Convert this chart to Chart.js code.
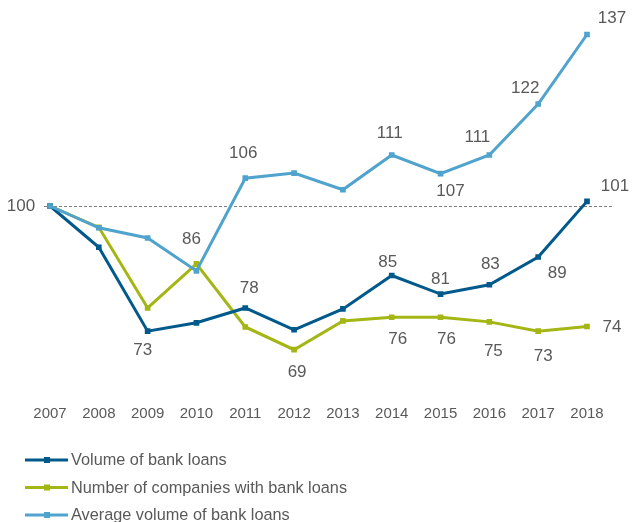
<!DOCTYPE html>
<html>
<head>
<meta charset="utf-8">
<script src="https://cdn.jsdelivr.net/npm/chart.js@4"></script>
<style>
  html, body { margin: 0; padding: 0; background: #fff; }
  #wrap { width: 640px; height: 522px; }
</style>
</head>
<body>
<div id="wrap"><canvas id="myChart"></canvas></div>
<script>
const years = ['2007', '2008', '2009', '2010', '2011', '2012', '2013', '2014', '2015', '2016', '2017', '2018'];

// index 2007 = 100
const volumeOfLoans = [100, 91.1, 73, 74.8, 78, 73.3, 77.8, 85, 81, 83, 89, 101];
const companiesWithLoans = [100, 95.4, 78, 87.5, 73.9, 69, 75.2, 76, 76, 75, 73, 74];
const averageLoan = [100, 95.3, 93.1, 86, 106, 107.1, 103.5, 111, 107, 111, 122, 137];

const baseline = 100;

// which points get a value label, and where it sits relative to the point [dx, dy]
const labelSpots = [
    { 0: [-29, 0], 2: [-5, 19], 4: [4, -20], 7: [-4, -13], 8: [0, -15], 9: [1, -20], 10: [19, 16], 11: [28, -15] },
    { 5: [3, 23], 7: [6, 22], 8: [6, 22], 9: [4, 29], 10: [5, 25], 11: [25, 1] },
    { 3: [-5, -32], 4: [-2, -25], 7: [-2, -22], 8: [10, 18], 9: [-12, -18], 10: [-13, -16], 11: [25, -16] }
];

const textColor = '#595959';
const fontFamily = '"Liberation Sans", Arial, sans-serif';

const ctx = document.getElementById('myChart').getContext('2d');

function lineSet(label, values, color, order) {
    return {
        label: label,
        data: values,
        borderColor: color,
        backgroundColor: color,
        borderWidth: 3,
        pointStyle: 'rect',
        pointRadius: 4,
        pointHoverRadius: 4,
        pointBorderWidth: 0,
        tension: 0,
        order: order
    };
}

// dotted reference line at 100
const baselinePlugin = {
    id: 'baseline',
    beforeDatasetsDraw(chart) {
        const x = chart.scales.x, y = chart.scales.y;
        const yy = Math.round(y.getPixelForValue(baseline)) + 0.5;
        const c = chart.ctx;
        c.save();
        c.strokeStyle = '#7f7f7f';
        c.lineWidth = 1;
        c.setLineDash([3, 2]);
        c.beginPath();
        c.moveTo(x.getPixelForValue(0) - 6, yy);
        c.lineTo(x.getPixelForValue(years.length - 1) + 25, yy);
        c.stroke();
        c.restore();
    }
};

const valueLabels = {
    id: 'valueLabels',
    afterDatasetsDraw(chart) {
        const c = chart.ctx;
        c.save();
        c.font = '17px ' + fontFamily;
        c.fillStyle = textColor;
        c.textAlign = 'center';
        c.textBaseline = 'middle';
        chart.data.datasets.forEach((ds, i) => {
            const meta = chart.getDatasetMeta(i);
            const spots = labelSpots[i];
            Object.keys(spots).forEach(k => {
                const pt = meta.data[k];
                const off = spots[k];
                c.fillText(String(Math.round(ds.data[k])), pt.x + off[0], pt.y + off[1]);
            });
        });
        c.restore();
    }
};

// stacked legend in the lower left corner
const stackedLegend = {
    id: 'stackedLegend',
    afterDraw(chart) {
        const c = chart.ctx;
        c.save();
        c.font = '16.3px ' + fontFamily;
        c.textBaseline = 'middle';
        chart.data.datasets.forEach((ds, i) => {
            const y = 460 + i * 27.5;
            c.strokeStyle = ds.borderColor;
            c.lineWidth = 3;
            c.beginPath();
            c.moveTo(25, y);
            c.lineTo(68, y);
            c.stroke();
            c.fillStyle = ds.borderColor;
            c.fillRect(44, y - 3, 6, 6);
            c.fillStyle = textColor;
            c.fillText(ds.label, 71, y + 1);
        });
        c.restore();
    }
};

const data = {
    labels: years,
    datasets: [
        lineSet('Volume of bank loans', volumeOfLoans, '#00598b', 1),
        lineSet('Number of companies with bank loans', companiesWithLoans, '#a3b614', 2),
        lineSet('Average volume of bank loans', averageLoan, '#4fa3cd', 0)
    ]
};

const config = {
    type: 'line',
    data: data,
    options: {
        responsive: true,
        maintainAspectRatio: false,
        animation: false,
        layout: {
            padding: { left: 50, right: 53, top: 20.6, bottom: 86.6 }
        },
        scales: {
            x: {
                offset: false,
                grid: { display: false, drawTicks: false },
                border: { display: false },
                ticks: {
                    color: textColor,
                    font: { family: fontFamily, size: 15 },
                    padding: 13,
                    autoSkip: false,
                    maxRotation: 0
                }
            },
            y: {
                display: false,
                min: 60,
                max: 140
            }
        },
        plugins: {
            legend: { display: false },
            tooltip: { enabled: false }
        }
    },
    plugins: [baselinePlugin, valueLabels, stackedLegend]
};

const myChart = new Chart(ctx, config);
</script>
</body>
</html>
